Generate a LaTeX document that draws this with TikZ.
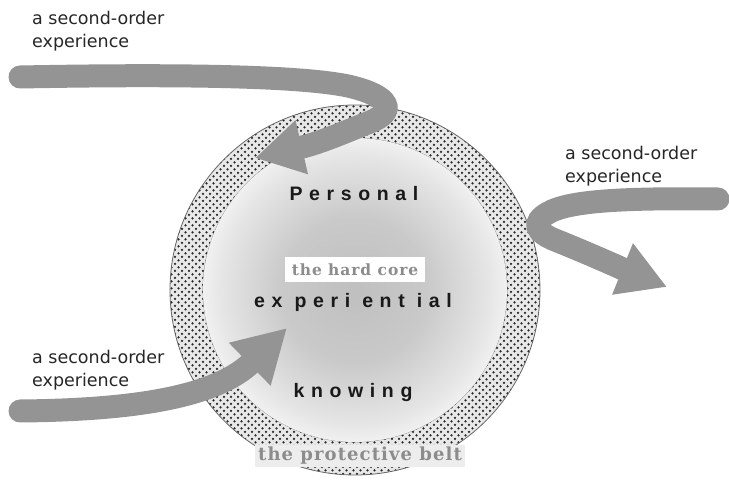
\documentclass[tikz,border=0pt]{standalone}
\usepackage{fontspec}
\usetikzlibrary{arrows.meta,patterns.meta}
\newfontfamily\labfont{DejaVu Sans}
\newfontfamily\wordfont[LetterSpace=34]{Liberation Sans}
\newfontfamily\serffont[LetterSpace=6]{DejaVu Serif}
\pgfdeclareradialshading{coreshade}{\pgfpoint{0bp}{0bp}}{color(0bp)=(black!25); color(12bp)=(black!21); color(22bp)=(black!10); color(29bp)=(white); color(50bp)=(white)}
\tikzset{
  lab/.style={font=\labfont\fontsize{17.5}{23.5}\selectfont, text=black!85, align=left, inner sep=0pt, anchor=north west},
  word/.style={font=\wordfont\bfseries\fontsize{19.5}{21}\selectfont, text=black!90, inner sep=0pt, anchor=base},
  band/.style={draw=black!42, line width=23pt, line cap=round},
  headtip/.style={-{Triangle[length=48pt,width=52pt]}},
  ringdots/.style={pattern color=black!85, even odd rule},
}
\begin{document}
\begin{tikzpicture}[x=1pt,y=-1pt]
\useasboundingbox (0,0) rectangle (729,481);
\coordinate (C) at (355,290);
% ring
\path[fill=black!9, even odd rule] (C) circle[radius=185pt] (C) circle[radius=152pt];
\path[ringdots, pattern={Dots[radius=1.25pt,distance=7pt]}] (C) circle[radius=185pt] (C) circle[radius=152pt];
\path[ringdots, pattern={Dots[radius=1.25pt,distance=7pt,xshift=3.5pt,yshift=3.5pt]}] (C) circle[radius=185pt] (C) circle[radius=152pt];
\draw[black!60, line width=0.8pt] (C) circle[radius=185pt];
\draw[black!50, line width=0.6pt] (C) circle[radius=152pt];
% core
\shade[shading=coreshade] (C) circle[radius=152pt];
% belt label
\node[fill=black!7, inner xsep=3pt, inner ysep=2pt, font=\serffont\bfseries\fontsize{18}{20}\selectfont, text=black!45] (belt) at (360,456) {the protective belt};
% core texts
\node[word] (pers) at (354,201) {Personal};
\node[fill=white, minimum width=140pt, minimum height=25pt, inner sep=0pt, font=\serffont\bfseries\fontsize{15.5}{18}\selectfont, text=black!45] (core) at (355,270) {the hard core};
\node[word] (expe) at (353,308) {ex peri ent ial};
\node[word] (know) at (353,398) {knowing};
% labels
\node[lab] (l1) at (32,11) {a second-order\\experience};
\node[lab] (l2) at (565,146) {a second-order\\experience};
\node[lab] (l3) at (32,350) {a second-order\\experience};
% arrows
\coordinate (a1s) at (20,77);
\coordinate (a1e) at (255,158);
\coordinate (a2s) at (718,199);
\coordinate (a2e) at (667,287);
\coordinate (a3s) at (20,411);
\coordinate (a3e) at (287,328);
\draw[band,headtip] (a1s) .. controls (180,74) and (300,76) .. (348,86) .. controls (392,96) and (396,112) .. (370,122) .. controls (345,132) and (320,143) .. (a1e);
\draw[band,headtip] (a2s) .. controls (630,198) and (570,200) .. (548,213) .. controls (532,222) and (535,232) .. (555,240) .. controls (590,254) and (630,272) .. (a2e);
\draw[band,-{Triangle[length=52pt,width=56pt]}] (a3s) .. controls (130,410) and (215,398) .. (a3e);
\end{tikzpicture}
\end{document}
